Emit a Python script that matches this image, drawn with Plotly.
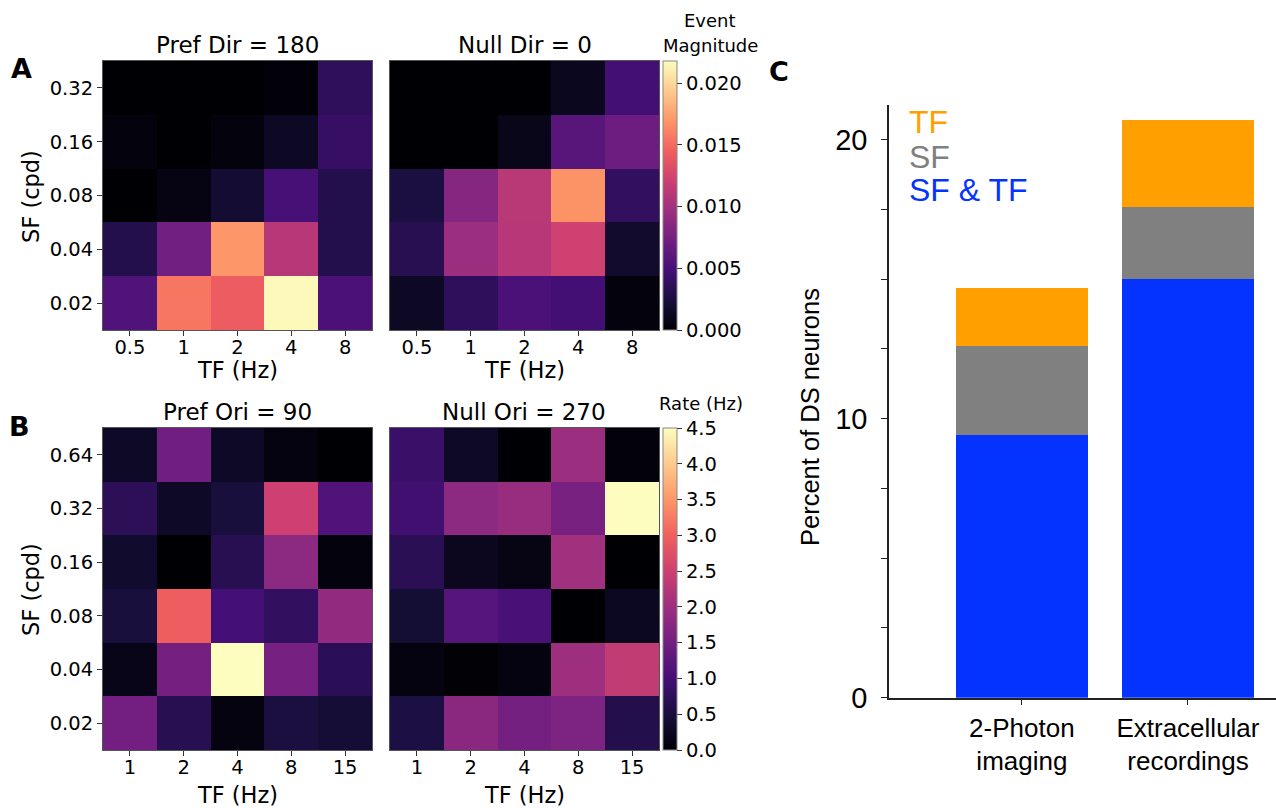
import plotly.graph_objects as go

W, H = 1276, 808

# ---------------- data ----------------
tf_a = ["0.5", "1", "2", "4", "8"]
sf_a = ["0.02", "0.04", "0.08", "0.16", "0.32"]
tf_b = ["1", "2", "4", "8", "15"]
sf_b = ["0.02", "0.04", "0.08", "0.16", "0.32", "0.64"]

# rows listed from lowest SF (bottom) to highest SF (top)
pref_dir = [
    [0.0054, 0.0155, 0.0142, 0.0216, 0.0052],
    [0.0030, 0.0072, 0.0170, 0.0109, 0.0030],
    [0.0000, 0.0006, 0.0020, 0.0050, 0.0030],
    [0.0004, 0.0000, 0.0004, 0.0013, 0.0041],
    [0.0000, 0.0000, 0.0000, 0.0002, 0.0037],
]
null_dir = [
    [0.0013, 0.0037, 0.0052, 0.0048, 0.0004],
    [0.0033, 0.0096, 0.0109, 0.0122, 0.0018],
    [0.0026, 0.0083, 0.0111, 0.0168, 0.0039],
    [0.0000, 0.0000, 0.0009, 0.0059, 0.0070],
    [0.0000, 0.0000, 0.0000, 0.0011, 0.0048],
]
pref_ori = [
    [1.50, 0.68, 0.10, 0.52, 0.44],
    [0.18, 1.53, 4.50, 1.55, 0.72],
    [0.50, 2.96, 1.00, 0.80, 1.86],
    [0.36, 0.00, 0.68, 1.80, 0.08],
    [0.74, 0.30, 0.50, 2.50, 1.12],
    [0.30, 1.48, 0.30, 0.10, 0.00],
]
null_ori = [
    [0.55, 1.77, 1.52, 1.62, 0.62],
    [0.10, 0.02, 0.10, 2.00, 2.38],
    [0.42, 1.18, 1.05, 0.00, 0.25],
    [0.70, 0.24, 0.14, 2.03, 0.00],
    [0.95, 1.80, 1.93, 1.57, 4.50],
    [0.87, 0.29, 0.00, 1.98, 0.06],
]

methods = ["2-Photon<br>imaging", "Extracellular<br>recordings"]
sf_tf = [9.42, 15.01]
sf_only = [3.19, 2.58]
tf_only = [2.09, 3.11]

ev_ticks = [0.0, 0.005, 0.010, 0.015, 0.020]
ev_ticktext = ["0.000", "0.005", "0.010", "0.015", "0.020"]
rate_ticks = [0.0, 0.5, 1.0, 1.5, 2.0, 2.5, 3.0, 3.5, 4.0, 4.5]
rate_ticktext = ["0.0", "0.5", "1.0", "1.5", "2.0", "2.5", "3.0", "3.5", "4.0", "4.5"]
bar_ticks = [0, 2.5, 5, 7.5, 10, 12.5, 15, 17.5, 20]
bar_ticktext = ["0", "", "", "", "10", "", "", "", "20"]

# ---------------- helpers ----------------
def px_x(x):
    return x / W

def px_y(y):
    return 1 - y / H

DJ = "DejaVu Sans"
LIB = "Liberation Sans"

magma = [
    [0.0, "#000004"], [1/9, "#180f3d"], [2/9, "#440f76"], [3/9, "#721f81"],
    [4/9, "#9e2f7f"], [5/9, "#cd4071"], [6/9, "#f1605d"], [7/9, "#fd9668"],
    [8/9, "#feca8d"], [1.0, "#fcfdbf"],
]

fig = go.Figure()

fig.add_trace(go.Heatmap(z=pref_dir, x=tf_a, y=sf_a, coloraxis="coloraxis",
                         xaxis="x", yaxis="y"))
fig.add_trace(go.Heatmap(z=null_dir, x=tf_a, y=sf_a, coloraxis="coloraxis",
                         xaxis="x2", yaxis="y2"))
fig.add_trace(go.Heatmap(z=pref_ori, x=tf_b, y=sf_b, coloraxis="coloraxis2",
                         xaxis="x3", yaxis="y3"))
fig.add_trace(go.Heatmap(z=null_ori, x=tf_b, y=sf_b, coloraxis="coloraxis2",
                         xaxis="x4", yaxis="y4"))

bar_x = [0, 1]
fig.add_trace(go.Bar(x=bar_x, y=sf_tf, marker_color="#0433FF", width=0.795,
                     xaxis="x5", yaxis="y5", name="SF & TF", marker_line_width=0))
fig.add_trace(go.Bar(x=bar_x, y=sf_only, marker_color="#808080", width=0.795,
                     xaxis="x5", yaxis="y5", name="SF", marker_line_width=0))
fig.add_trace(go.Bar(x=bar_x, y=tf_only, marker_color="#FFA000", width=0.795,
                     xaxis="x5", yaxis="y5", name="TF", marker_line_width=0))

heat_y = dict(type="category", showline=True, mirror=True, linecolor="#555",
              linewidth=1, ticks="outside", ticklen=5, tickcolor="#333",
              tickfont=dict(family=DJ, size=19.5, color="black"),
              showgrid=False, zeroline=False, fixedrange=True, automargin=False)
heat_x = dict(heat_y, ticklabelstandoff=-5)

xA1 = [px_x(103), px_x(372)]
xA2 = [px_x(390), px_x(659)]
yA = [px_y(330), px_y(61)]
yB = [px_y(750), px_y(428)]

cb_common = dict(xanchor="left", xpad=0, ypad=0, thickness=14, thicknessmode="pixels",
                 lenmode="pixels", outlinewidth=1, outlinecolor="#888",
                 ticks="outside", ticklen=5, tickcolor="#333",
                 tickfont=dict(family=DJ, size=19.5, color="black"))

fig.update_layout(
    width=W, height=H, autosize=False, margin=dict(l=0, r=0, t=0, b=0, pad=0),
    paper_bgcolor="white", plot_bgcolor="white", showlegend=False,
    barmode="stack",
    font=dict(family=DJ, color="black"),
    coloraxis=dict(colorscale=magma, cmin=0, cmax=0.0218,
                   colorbar=dict(x=px_x(663), y=px_y((61 + 330) / 2), yanchor="middle",
                                 len=269, tickvals=ev_ticks, ticktext=ev_ticktext,
                                 **cb_common)),
    coloraxis2=dict(colorscale=magma, cmin=0, cmax=4.5,
                    colorbar=dict(x=px_x(663), y=px_y((428 + 750) / 2), yanchor="middle",
                                  len=322, tickvals=rate_ticks, ticktext=rate_ticktext,
                                  **cb_common)),
    xaxis=dict(heat_x, domain=xA1, anchor="y"),
    yaxis=dict(heat_y, domain=yA, anchor="x"),
    xaxis2=dict(heat_x, domain=xA2, anchor="y2"),
    yaxis2=dict(heat_y, domain=yA, anchor="x2", showticklabels=False, ticks=""),
    xaxis3=dict(heat_x, domain=xA1, anchor="y3"),
    yaxis3=dict(heat_y, domain=yB, anchor="x3"),
    xaxis4=dict(heat_x, domain=xA2, anchor="y4"),
    yaxis4=dict(heat_y, domain=yB, anchor="x4", showticklabels=False, ticks=""),
    xaxis5=dict(domain=[px_x(889), 1.0], anchor="y5", range=[-0.80, 1.53],
                tickvals=bar_x, ticktext=methods, ticks="outside", ticklen=6,
                tickcolor="#222", showline=True, linecolor="#222", linewidth=1.5,
                showgrid=False, zeroline=False, ticklabelstandoff=0, automargin=False,
                tickfont=dict(family=LIB, size=26, color="black")),
    yaxis5=dict(domain=[px_y(697.7), px_y(105)], anchor="x5", range=[0, 21.24],
                tickvals=bar_ticks, ticktext=bar_ticktext, ticks="outside", ticklen=6,
                tickcolor="#222", showline=True, linecolor="#222", linewidth=1.5,
                showgrid=False, zeroline=False, ticklabelstandoff=8, automargin=False,
                tickfont=dict(family=LIB, size=29, color="black")),
)

ann = []
def text(x, y, s, size, family=DJ, color="black", bold=False, angle=0, xanchor="center"):
    ann.append(dict(x=px_x(x), y=px_y(y), xref="paper", yref="paper",
                    text=(f"<b>{s}</b>" if bold else s),
                    showarrow=False, xanchor=xanchor, yanchor="middle", textangle=angle,
                    font=dict(family=family, size=size, color=color)))

# titles
text(237, 45, "Pref Dir = 180", 23)
text(525, 45, "Null Dir = 0", 23)
text(237, 412, "Pref Ori = 90", 23)
text(524, 412, "Null Ori = 270", 23)
# axis labels
text(237, 370, "TF (Hz)", 22.5)
text(524, 370, "TF (Hz)", 22.5)
text(237, 795, "TF (Hz)", 22.5)
text(524, 795, "TF (Hz)", 22.5)
text(31, 196, "SF (cpd)", 22.5, angle=-90)
text(31, 589, "SF (cpd)", 22.5, angle=-90)
# colorbar titles
text(710, 20, "Event", 18)
text(710, 45, "Magnitude", 18)
text(701, 403, "Rate (Hz)", 18)
# panel letters
text(21, 69, "A", 27, bold=True)
text(20, 426, "B", 27, bold=True)
text(779, 72, "C", 27, bold=True)
# bar chart legend + y title
text(907, 122, "TF", 32, family=LIB, color="#FFA000", xanchor="left")
text(907, 157, "SF", 32, family=LIB, color="#808080", xanchor="left")
text(907, 190, "SF &amp; TF", 32, family=LIB, color="#0433FF", xanchor="left")
text(810, 417, "Percent of DS neurons", 25.5, family=LIB, angle=-90)

fig.update_layout(annotations=ann)
fig.write_html("out.html")
